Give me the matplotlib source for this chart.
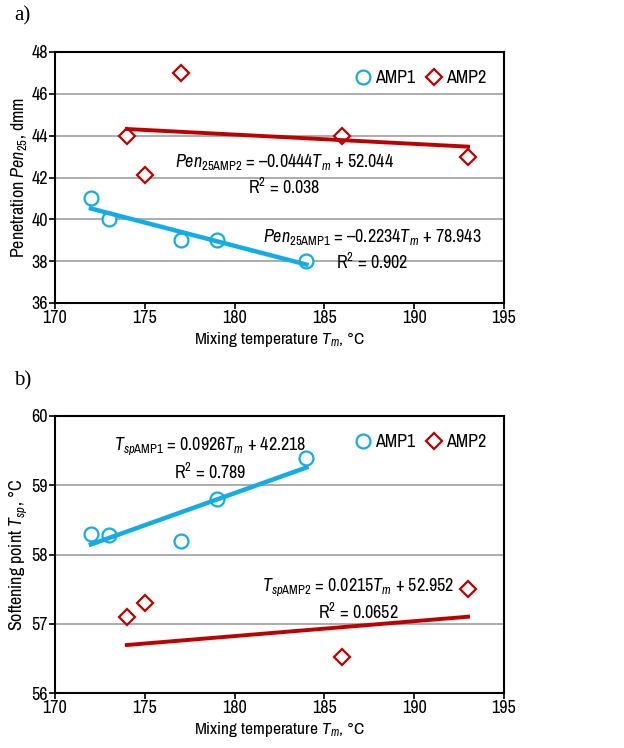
import matplotlib
matplotlib.use("Agg")
import matplotlib.pyplot as plt
import numpy as np

# panel a) penetration
tm_pen_amp1 = [172, 173, 177, 179, 184]
pen_amp1 = [41.0, 40.0, 39.0, 39.0, 38.0]
tm_pen_amp2 = [174, 175, 177, 186, 193]
pen_amp2 = [44.0, 42.1, 47.0, 44.0, 43.0]
pen_fit_amp1 = (-0.2234, 78.943)
pen_fit_amp2 = (-0.0444, 52.044)

# panel b) softening point
tm_sp_amp1 = [172, 173, 177, 179, 184]
sp_amp1 = [58.30, 58.28, 58.20, 58.80, 59.40]
tm_sp_amp2 = [174, 175, 186, 193]
sp_amp2 = [57.10, 57.30, 56.52, 57.50]
sp_fit_amp1 = (0.0926, 42.218)
sp_fit_amp2 = (0.0215, 52.952)

xticks = [170, 175, 180, 185, 190, 195]
pen_yticks = [36, 38, 40, 42, 44, 46, 48]
sp_yticks = [56, 57, 58, 59, 60]

CYAN = "#12ACE6"
RED = "#C00000"
NARROW = 'Archivo Narrow'

plt.rcParams['font.family'] = [NARROW, 'Liberation Sans', 'DejaVu Sans']
plt.rcParams['mathtext.fontset'] = 'custom'
plt.rcParams['mathtext.rm'] = NARROW
plt.rcParams['mathtext.it'] = NARROW + ':italic'
plt.rcParams['mathtext.bf'] = NARROW + ':bold'
plt.rcParams['mathtext.sf'] = NARROW
plt.rcParams['font.size'] = 12


def panel(ax, x1, y1, x2, y2, fit1, fit2, yticks):
    ax.plot(x1, y1, linestyle='none', marker='o', ms=10, mfc='white', mec=CYAN, mew=1.6, label='AMP1', zorder=3)
    ax.plot(x2, y2, linestyle='none', marker='D', ms=8, mfc='white', mec=RED, mew=1.6, label='AMP2', zorder=3)
    xx1 = np.array([min(x1), max(x1)])
    xx2 = np.array([min(x2), max(x2)])
    ax.plot(xx1, fit1[0] * xx1 + fit1[1], color=CYAN, lw=3.2, zorder=4)
    ax.plot(xx2, fit2[0] * xx2 + fit2[1], color=RED, lw=2.8, zorder=4)
    ax.set_xlim(170, 195)
    ax.set_ylim(yticks[0], yticks[-1])
    ax.set_xticks(xticks)
    ax.set_yticks(yticks)
    ax.yaxis.grid(True, color='#A6A6A6', lw=1.3)
    ax.set_axisbelow(True)
    for s in ax.spines.values():
        s.set_linewidth(1.5)
    ax.tick_params(length=4, width=1.2, pad=1, labelsize=13)
    ax.set_xlabel(r'Mixing temperature $T_m$, °C', fontsize=12.5, labelpad=3)
    ax.legend(loc='upper right', ncol=2, frameon=False, fontsize=13,
              handlelength=0.9, handletextpad=0.2, columnspacing=0.6, borderaxespad=0.6)


fig = plt.figure(figsize=(6.24, 7.48), dpi=100)
ax1 = fig.add_axes([55 / 624, 1 - 303 / 748, 449 / 624, 251 / 748])
ax2 = fig.add_axes([55 / 624, 1 - 693 / 748, 449 / 624, 277 / 748])

panel(ax1, tm_pen_amp1, pen_amp1, tm_pen_amp2, pen_amp2, pen_fit_amp1, pen_fit_amp2, pen_yticks)
ax1.set_ylabel(r'Penetration $Pen_{25}$, dmm', fontsize=13, labelpad=2)
ax1.text(182.75, 42.74, r'$Pen_{\mathrm{25AMP2}}$ = –0.0444$T_m$ + 52.044', ha='center', va='center', fontsize=13)
ax1.text(182.75, 41.55, r'R$^2$ = 0.038', ha='center', va='center', fontsize=13)
ax1.text(187.65, 39.15, r'$Pen_{\mathrm{25AMP1}}$ = –0.2234$T_m$ + 78.943', ha='center', va='center', fontsize=13)
ax1.text(187.65, 37.96, r'R$^2$ = 0.902', ha='center', va='center', fontsize=13)

panel(ax2, tm_sp_amp1, sp_amp1, tm_sp_amp2, sp_amp2, sp_fit_amp1, sp_fit_amp2, sp_yticks)
ax2.set_ylabel(r'Softening point $T_{sp}$, °C', fontsize=13, labelpad=2)
ax2.text(178.63, 59.57, r'$T_{sp\mathrm{AMP1}}$ = 0.0926$T_m$ + 42.218', ha='center', va='center', fontsize=13)
ax2.text(178.63, 59.19, r'R$^2$ = 0.789', ha='center', va='center', fontsize=13)
ax2.text(186.87, 57.53, r'$T_{sp\mathrm{AMP2}}$ = 0.0215$T_m$ + 52.952', ha='center', va='center', fontsize=13)
ax2.text(186.87, 57.17, r'R$^2$ = 0.0652', ha='center', va='center', fontsize=13)

fig.text(14 / 624, 1 - 16 / 748, 'a)', family=['Liberation Serif', 'DejaVu Serif'], fontsize=15, va='center')
fig.text(14 / 624, 1 - 381 / 748, 'b)', family=['Liberation Serif', 'DejaVu Serif'], fontsize=15, va='center')

fig.savefig('out.png', dpi=100)
